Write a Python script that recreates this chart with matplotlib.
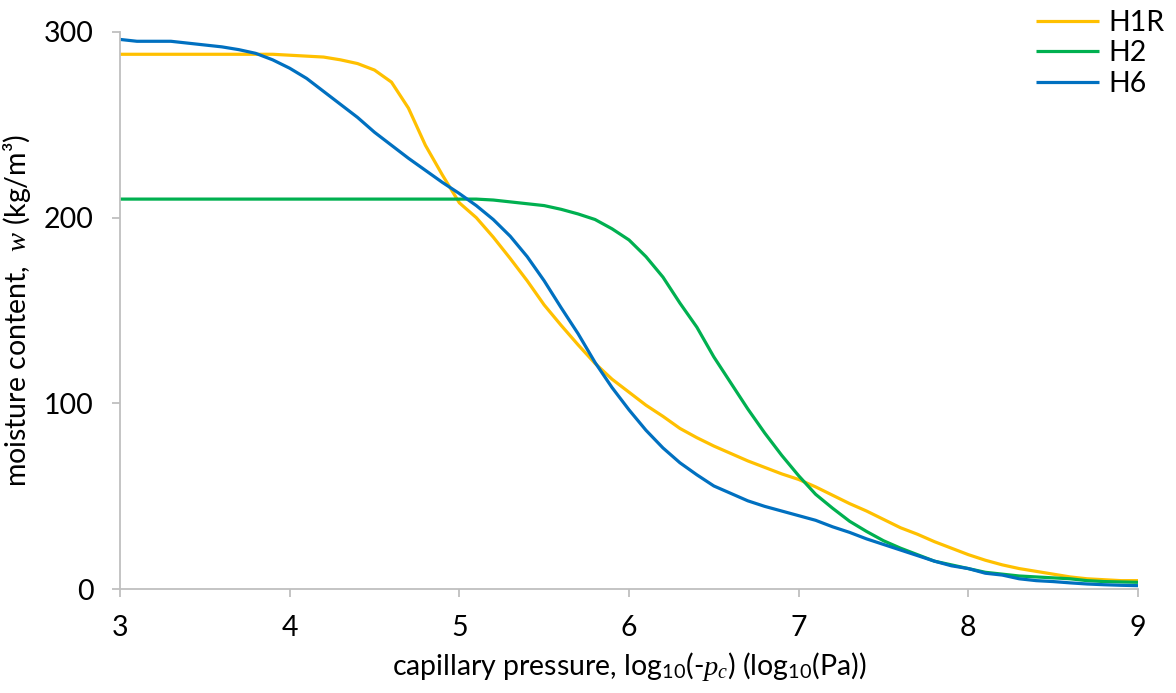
import numpy as np
import matplotlib
matplotlib.use("Agg")
import matplotlib.pyplot as plt

# log10(-pc) from 3 to 9 in steps of 0.1
log_pc = np.round(np.arange(3.0, 9.01, 0.1), 1)

h1r = [288, 288, 288, 288, 288, 288, 288, 288, 288, 288,
       287.5, 287, 286.5, 285, 283, 279.5, 273, 259, 239, 223,
       208, 200, 189.5, 178, 166, 153, 142, 131.5, 121.5, 113,
       106, 99, 93, 86.5, 81.5, 77, 73, 69, 65.5, 62,
       59, 55, 50.5, 46, 42, 37.5, 33, 29.5, 25.5, 22,
       18.5, 15.5, 13, 11, 9.5, 8, 6.5, 5.5, 5, 4.5,
       4.5]

h2 = [210, 210, 210, 210, 210, 210, 210, 210, 210, 210,
      210, 210, 210, 210, 210, 210, 210, 210, 210, 210,
      210, 210, 209.5, 208.5, 207.5, 206.5, 204.5, 202, 199, 194,
      188, 179, 168, 154, 141, 125, 111, 97, 84, 72,
      61, 51, 43.5, 36.5, 31, 26, 22, 18.5, 15, 13,
      11, 9, 8, 7, 6.5, 6, 5.5, 4.5, 4, 3.8,
      3.6]

h6 = [296, 295, 295, 295, 294, 293, 292, 290.5, 288.5, 285,
      280.5, 275, 268, 261, 254, 246, 239, 232, 225.5, 219,
      213, 206.5, 199, 190, 179, 166, 151.5, 137.5, 122, 108.5,
      96.5, 85.5, 76, 68, 61.5, 55.5, 51.5, 47.5, 44.5, 42,
      39.5, 37, 33.5, 30.5, 27, 24, 21, 18, 15, 12.5,
      11, 8.5, 7.5, 5.5, 4.5, 4, 3.3, 2.7, 2.3, 2,
      1.8]

series = [("H1R", h1r, "#FFC000"), ("H2", h2, "#00B050"), ("H6", h6, "#0070C0")]

plt.rcParams["font.family"] = ["Lato", "DejaVu Sans"]
plt.rcParams["mathtext.fontset"] = "custom"
plt.rcParams["mathtext.rm"] = "Lato"
plt.rcParams["mathtext.it"] = "Liberation Serif:italic"

FS = 20.5
GREY = "#BFBFBF"

fig = plt.figure(figsize=(11.76, 6.93), dpi=100)
ax = fig.add_axes([120 / 1176, 1 - 589 / 693, (1138 - 120) / 1176, (589 - 32) / 693])

for name, vals, col in series:
    ax.plot(log_pc, vals, color=col, lw=2.3, label=name, solid_capstyle="butt")

ax.set_xlim(3, 9)
ax.set_ylim(0, 300)
ax.set_xticks(range(3, 10))
ax.set_yticks([0, 100, 200, 300])

for side in ["top", "right"]:
    ax.spines[side].set_visible(False)
for side in ["left", "bottom"]:
    ax.spines[side].set_color(GREY)
    ax.spines[side].set_linewidth(1.3)

ax.tick_params(axis="both", direction="out", length=6, width=1.3, color=GREY,
               labelsize=FS, pad=13, labelcolor="black")

ax.set_xlabel(r"capillary pressure, log$_{10}$(-$p_c$) (log$_{10}$(Pa))", fontsize=FS, labelpad=6)
ax.set_ylabel("moisture content,  $w$ (kg/m³)", fontsize=FS, labelpad=8)

fig.legend(loc="upper right", bbox_to_anchor=(1.005, 1.01), frameon=False, fontsize=FS,
           handlelength=2.2, handletextpad=0.35, labelspacing=0.15, borderaxespad=0.2)

fig.savefig("out.png", dpi=100)
